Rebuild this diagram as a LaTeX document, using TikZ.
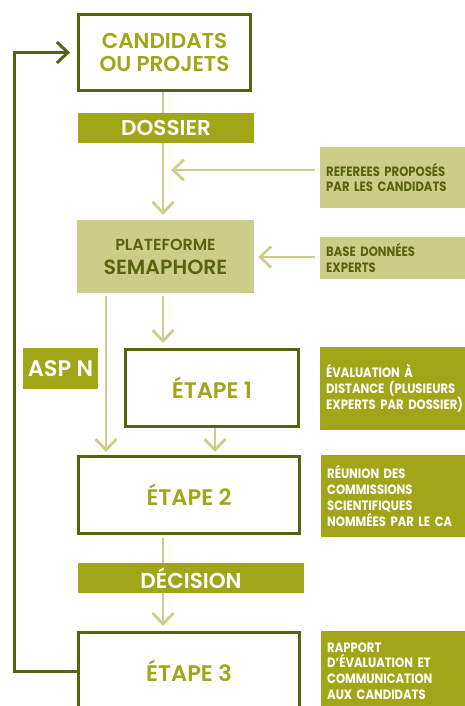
\documentclass[tikz,border=0pt]{standalone}
\usepackage{fontspec}
\setmainfont{Poppins}[UprightFont=* SemiBold]
\newfontfamily\sidefont{Poppins}[UprightFont=* Bold, FakeStretch=0.86]
\usetikzlibrary{arrows.meta}
\definecolor{olive}{RGB}{160,166,24}
\definecolor{darkolive}{RGB}{88,99,16}
\definecolor{lightolive}{RGB}{204,205,136}
\tikzset{
  stagebox/.style={draw=darkolive, line width=3pt, fill=white, text=olive, align=center, inner sep=0pt},
  barbox/.style={fill=olive, text=white, inner sep=0pt, align=center},
  lightbox/.style={fill=lightolive, text=darkolive, inner sep=0pt, align=center},
  sidebox/.style={fill=olive, text=white, anchor=west, inner xsep=6pt, inner ysep=0pt, text width=150pt, align=left, font=\sidefont\fontsize{13.5}{15.8}\selectfont},
  sidelight/.style={sidebox, fill=lightolive, text=darkolive},
  conn/.style={draw=lightolive, line width=2.7pt, -{Straight Barb[length=11pt,width=21pt]}},
  plain/.style={draw=lightolive, line width=2.7pt},
  fb/.style={draw=darkolive, line width=3pt, line join=miter, -{Straight Barb[length=11pt,width=21pt]}},
  big/.style={font=\fontsize{21.5}{23}\selectfont},
  bigger/.style={font=\fontsize{22.5}{24}\selectfont}
}
\begin{document}
\begin{tikzpicture}[x=1pt,y=-1pt]
\useasboundingbox (0,0) rectangle (465,706);
\begin{scope}
\clip (0,0) rectangle (465,706);
% coordinates for vertical connector lines
\coordinate (cx) at (163,0);
\coordinate (lx) at (106,0);
\coordinate (rx) at (215,0);
\coordinate (fbx) at (14,0);

\node[stagebox, big, minimum width=172pt, minimum height=76pt] (cand) at (164.5,52.5) {CANDIDATS\\OU PROJETS};
\node[barbox, big, minimum width=176pt, minimum height=30pt] (doss) at (166,128) {DOSSIER};
\node[lightbox, font=\fontsize{20.5}{24}\selectfont, minimum width=177pt, minimum height=73pt] (plat) at (165.5,256.5)
  {{\fontsize{16}{17}\selectfont PLATEFORME}\\{\fontsize{20.5}{23}\selectfont SEMAPHORE}};
\node[sidelight, minimum height=61pt] (ref) at (320,177.5) {REFEREES PROPOSÉS\\PAR LES CANDIDATS};
\node[sidelight, minimum height=42pt] (base) at (320,258) {BASE DONNÉES\\EXPERTS};
\node[barbox, bigger, minimum width=75pt, minimum height=41pt] (asp) at (60.5,368.5) {ASP N};
\node[stagebox, bigger, minimum width=173pt, minimum height=77pt] (e1) at (212,388) {ÉTAPE 1};
\node[sidebox, minimum height=83pt] (eval) at (320,388.5) {ÉVALUATION À\\DISTANCE (PLUSIEURS\\EXPERTS PAR DOSSIER)};
\node[stagebox, bigger, minimum width=221pt, minimum height=77pt] (e2) at (189,495) {ÉTAPE 2};
\node[sidebox, minimum height=82pt] (reun) at (321,496) {RÉUNION DES\\COMMISSIONS\\SCIENTIFIQUES\\NOMMÉES PAR LE CA};
\node[barbox, font=\fontsize{21.5}{23}\selectfont, minimum width=226pt, minimum height=30pt] (dec) at (191,578) {DÉCISION};
\node[stagebox, bigger, minimum width=221pt, minimum height=77pt] (e3) at (189,671) {ÉTAPE 3};
\node[sidebox, minimum height=80pt] (rap) at (321,671) {RAPPORT\\D’ÉVALUATION ET\\COMMUNICATION\\AUX CANDIDATS};

% connectors
\draw[plain] (cand.south -| cx) -- (doss.north -| cx);
\draw[conn, shorten >=5pt] (doss.south -| cx) -- (plat.north -| cx);
\draw[conn, shorten <=5pt, shorten >=8pt] ([yshift=7.5pt]ref.west) -- ([yshift=7.5pt]ref.west -| cx);
\draw[conn, shorten <=5pt, shorten >=4pt] ([yshift=1pt]base.west) -- ([yshift=1pt]base.west -| plat.east);
\draw[conn, shorten <=3pt, shorten >=3pt] (plat.south -| lx) -- (e2.north -| lx);
\draw[conn, shorten <=3pt, shorten >=5pt] (plat.south -| cx) -- (e1.north -| cx);
\draw[conn, shorten >=3pt] (e1.south -| rx) -- (e2.north -| rx);
\draw[plain, shorten <=3pt] (e2.south -| cx) -- (dec.north -| cx);
\draw[conn, shorten >=5pt] (dec.south -| cx) -- (e3.north -| cx);
\draw[fb, shorten >=7pt] (e3.west) -- (e3.west -| fbx) |- (cand.west);
\end{scope}
\end{tikzpicture}
\end{document}
